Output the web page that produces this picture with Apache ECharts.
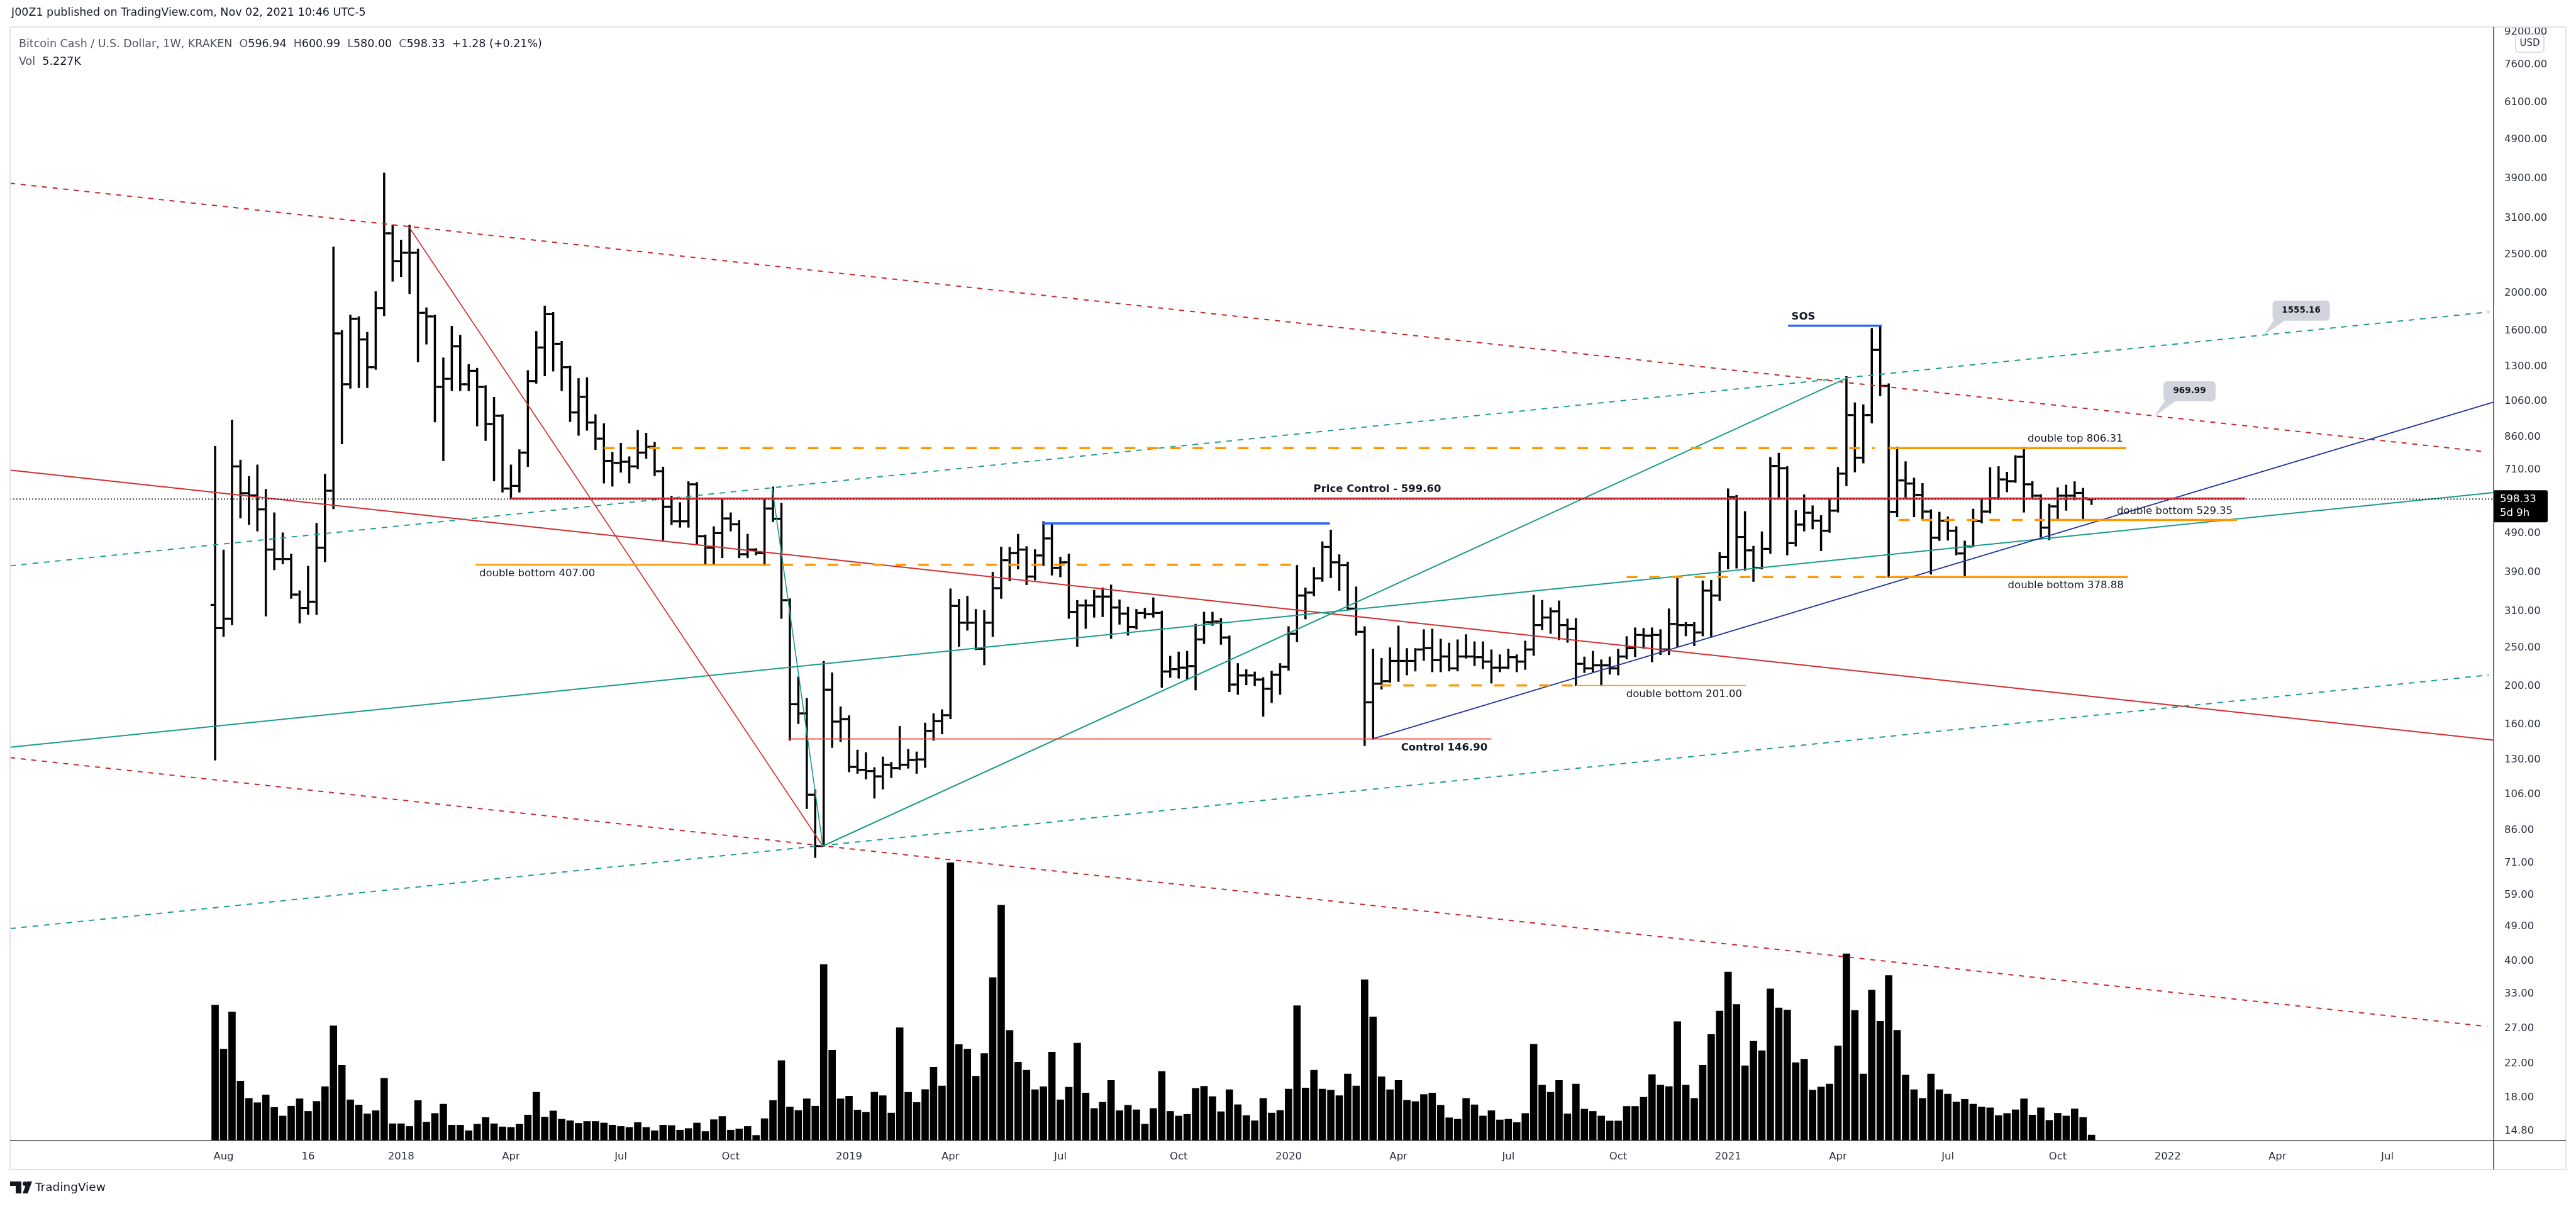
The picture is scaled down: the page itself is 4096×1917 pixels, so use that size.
<!DOCTYPE html>
<html>
<head>
<meta charset="utf-8">
<script src="https://cdn.jsdelivr.net/npm/echarts@6/dist/echarts.min.js"></script>
<style>html,body{margin:0;padding:0;background:#fff}#c{width:4096px;height:1917px}</style>
</head>
<body>
<div id="c"></div>
<script>
// Weekly bars, index 0 = week of 2017-07-31 (BCH/USD, Kraken, 1W)
const firstWeek = '2017-07-31';
const opens = [322,281,297,724,619,611,563,445,421,421,342,316,328,450,628,1577,1171,1718,1522,1294,1829,2833,2408,2529,2529,1779,1742,1153,1209,1462,1171,1267,1153,928,974,636,646,785,1193,1452,1765,1484,1294,993,1088,936,852,748,739,744,724,785,812,704,572,525,525,652,481,450,490,534,516,433,445,436,566,533,331,180,170.6,106,78.5,196,162.6,165,124.7,122.6,121.7,118,126.3,123.9,126.3,129.9,130.3,154,163,168.8,320,290,290,249,290,355,418,436,445,380,430,475,400,413,309,321,321,338,338,317,306,283,307,305,307,218,221,223,225,263,291,292,266,202,213,213,208,197,214,224,272,340,346,376,452,413,406,315,275,182,203,206,232,232,232,248,250,233,238,222,238,238,237,231,223,223,237,231,248,286,299,310,286,280,228,222,226,226,222,238,250,270,269,270,248,288,286,286,274,350,340,426,605,479,443,400,447,726,716,462,515,552,527,497,559,694,978,762,978,1432,1160,555,667,655,613,556,477,527,497,435,453,526,556,601,671,664,766,652,610,506,573,610,610,620,596.94];
const highs = [813,443,948,750,682,729,632,551,490,433,349,403,518,690,2612,1600,1752,1735,1585,2010,4024,2966,2717,2966,2577,1829,1752,1364,1642,1558,1312,1284,1160,1083,979,729,797,1267,1593,1848,1780,1503,1300,1209,1215,979,928,785,828,765,893,878,832,720,607,585,661,658,484,508,595,551,527,486,447,595,641,583,333,211,186,108.9,231,216,177,168,137.4,135.4,124,132,128,157.8,138,135.9,161,170,174,353,332,338,313,311,389,451,450,486,452,444,523,519,425,433,330,331,350,355,361,331,317,313,315,335,310,238,244,245,287,308,308,297,268,228,220,217,210,218,228,283,405,355,400,465,498,431,413,357,283,248,235,250,284,249,249,278,279,263,257,262,270,259,259,247,240,248,240,260,340,330,316,329,296,297,237,245,233,237,248,267,281,280,281,278,314,376,290,290,370,371,437,634,610,555,453,493,762,781,722,558,612,574,542,601,719,1223,1049,1037,1621,1652,1172,810,743,675,654,561,553,538,508,467,563,596,718,722,699,770,809,662,613,580,638,648,661,636,600.99];
const lows = [130,268,287,536,516,497,302,396,410,335,290,305,305,415,566,828,1146,1150,1150,1280,1752,2144,2204,1994,1337,1484,941,750,1130,1130,1130,919,844,667,624,599,624,725,1180,1232,1267,1130,943,870,896,801,658,646,701,658,715,760,687,471,516,508,508,460,408,408,425,497,425,425,432,406,525,298,146,161,97.9,73.5,78.5,140,145,121.4,120.3,116.4,104,109.7,117.3,123,124,120.3,124.5,146,151.6,165.7,253,278,248,227,268,335,371,398,363,373,406,384,380,298,253,281,300,301,265,288,270,280,298,300,199,211,210,208,196,257,286,256,194,191,202,201,168,182,191,220,260,297,340,370,378,351,313,270,141.5,146.9,197,205,206,214,219,233,218,218,219,219,236,226,222,204,218,222,218,221,240,279,273,263,259,201,217,218,201,215,214,235,238,250,231,241,241,252,269,254,269,267,331,398,400,395,370,398,436,601,432,455,497,503,443,493,555,648,702,740,935,1097,379,540,602,540,531,386,470,471,432,382,453,521,552,598,625,660,555,601,479,472,529,561,596,531,580];
const closes = [281,297,724,619,611,563,445,421,421,342,316,328,450,628,1577,1171,1718,1522,1294,1829,2833,2408,2529,2529,1779,1742,1153,1209,1462,1171,1267,1153,928,974,636,646,785,1193,1452,1765,1484,1294,993,1088,936,852,748,739,744,724,785,812,704,572,525,525,652,481,450,490,534,516,433,445,436,566,533,331,180,170.6,106,78.5,196,162.6,165,124.7,122.6,121.7,118,126.3,123.9,126.3,129.9,130.3,154,163,168.8,320,290,290,249,290,355,418,436,445,380,430,475,400,413,309,321,321,338,338,317,306,283,307,305,307,218,221,223,225,263,291,292,266,202,213,213,208,197,214,224,272,340,346,376,452,413,406,315,275,182,203,206,232,232,232,248,250,233,238,222,238,238,237,231,223,223,237,231,248,286,299,310,286,280,228,222,226,226,222,238,250,270,269,270,248,288,286,286,274,350,340,426,605,479,443,400,447,726,716,462,515,552,527,497,559,694,978,762,978,1432,1160,555,667,655,613,556,477,527,497,435,453,526,556,601,671,664,766,652,610,506,573,610,610,620,601,598.33];
// Volume in thousands
const volumes = [122.5,82.7,116.3,53.9,38.3,34.4,41.4,30.1,22.4,31.3,37.9,26.6,35.6,48.8,103.7,68.1,37.0,32.3,24.3,27.2,56.4,15.4,15.4,13.0,36.4,16.9,24.7,33.1,14.2,14.2,9.1,15.0,21.0,15.4,12.6,12.1,15.0,23.3,43.8,21.4,27.0,19.5,18.1,15.8,17.5,17.5,16.1,14.2,13.0,12.1,16.5,12.1,9.1,14.2,13.8,9.7,11.1,16.1,8.4,19.1,22.0,9.7,10.7,13.0,4.9,20.0,36.4,72.4,30.5,27.4,37.9,31.3,159.1,81.7,37.9,40.3,27.8,25.7,43.8,40.8,25.1,102.1,43.8,34.6,46.3,66.5,49.6,251,86.9,82.7,58.4,78.8,147.4,212.6,99.6,71.0,63.8,46.1,48.8,80.1,37.0,48.4,88.1,43.2,29.2,34.8,54.5,27.2,32.1,28.0,15.0,29.2,62.6,26.6,22.4,23.9,47.3,49.2,39.9,26.3,46.1,32.6,22.8,18.1,38.3,25.1,27.4,46.7,122.0,47.7,63.8,46.7,45.7,40.8,60.3,49.6,145.3,111.8,57.8,46.1,54.5,36.6,35.4,41.8,43.2,32.1,20.8,19.5,38.3,32.5,22.4,27.2,18.9,19.5,16.5,24.7,87.1,50.2,43.8,54.5,24.3,51.2,28.6,26.6,22.4,17.9,17.9,31.1,31.1,39.3,59.7,50.2,49.0,107.6,50.2,38.3,68.1,95.9,117.1,152.3,123.1,67.7,89.9,81.3,137.1,120.0,118.1,70.6,73.7,45.7,48.6,51.2,85.6,168.8,117.7,60.3,136.0,107.9,149.2,99.8,59.3,46.1,38.3,60.3,46.1,42.2,35.0,37.5,33.1,30.5,29.8,22.8,24.7,28.0,37.9,23.3,29.8,18.5,24.9,22.4,28.8,21.0,5.227];

// Time axis ticks (week index) and labels
const tickWeeks = [1,11,22,35,48,61,75,87,100,114,127,140,153,166,179,192,205,218,231,244,257];
const tickLabels = ['Aug','16','2018','Apr','Jul','Oct','2019','Apr','Jul','Oct','2020','Apr','Jul','Oct','2021','Apr','Jul','Oct','2022','Apr','Jul'];
// Price axis ticks
const priceTicks = [14.8,18,22,27,33,40,49,59,71,86,106,130,160,200,250,310,390,490,710,860,1060,1300,1600,2000,2500,3100,3900,4900,6100,7600,9200];

// Drawings: [weekIndex, price] anchor points
const redChannelUpper = [[-24.26,3798],[268.75,788]];
const redChannelMid = [[-24.26,708.8],[269.57,145.9]];
const redChannelLower = [[-24.26,131.7],[268.8,27.3]];
const tealChannelUpper = [[-24.26,404.7],[268.98,1788]];
const tealChannelMid = [[-24.26,139.9],[269.57,621.3]];
const tealChannelLower = [[-24.26,48.4],[268.98,213.6]];
const redDropLine = [[22.9,2949],[71.9,78.5]];
const tealDropLine = [[65.9,640],[71.9,78.5]];
const tealRiseLine = [[71.9,78.5],[193.1,1216]];
const navyRiseLine = [[136.9,146.9],[269.57,1055]];
const blueTop2019 = [[97.9,518.6],[131.9,518.6]];
const sosLine = [[186.1,1649],[197.2,1649]];
const priceControl = [[34.8,599.6],[240.2,599.6]];
const control146 = [[67.8,146.9],[151,146.9]];
const doubleTopDashed = [[46,806.31],[196.4,806.31]];
const doubleTopSolid = [[198,806.31],[226.1,806.31]];
const db407Solid = [[30.8,407],[65.7,407]];
const db407Dashed = [[67.1,407],[127.9,407]];
const db201Dashed = [[137.9,201],[161,201]];
const db201Solid = [[161,201],[181.1,201]];
const db378Dashed = [[167,378.88],[198,378.88]];
const db378Solid = [[198,378.88],[226.3,378.88]];
const db529Dashed = [[199.2,529.35],[216.5,529.35]];
const db529Solid = [[217.1,529.35],[239.2,529.35]];
const lastPriceLine = [[-24.26,598.33],[269.57,598.33]];

const noteTexts = ['Price Control - 599.60','double bottom 407.00','double bottom 201.00','Control 146.90','SOS','double top 806.31','double bottom 378.88','double bottom 529.35'];
const noteAnchors = [[137.5,632.8],[31.25,386.5],[180.65,190.5],[140.3,139.3],[186.5,1739],[225.7,849.4],[225.8,360.3],[238.7,556.4]];
const calloutAnchors = [[242.3,1555.16],[229.4,969.99]];

// ---------- styles ----------
const FONT = '"DejaVu Sans", Verdana, sans-serif';
const noteStyles = [
  {align:'center',bold:true},{align:'left',bold:false},{align:'right',bold:false},{align:'left',bold:true},
  {align:'left',bold:true},{align:'right',bold:false},{align:'right',bold:false},{align:'right',bold:false}
];
const RED_D = '#c62828', RED = '#d32f2f', TEAL = '#1b9c8a', ORANGE = '#ff9800', BLUE = '#2962ff', NAVY = '#2236a0';
const lineSpecs = [
  [redChannelUpper, RED_D, 2, [8,9]],
  [redChannelMid, RED, 2, 'solid'],
  [redChannelLower, RED_D, 2, [8,9]],
  [tealChannelUpper, TEAL, 2, [9,9]],
  [tealChannelMid, TEAL, 2, 'solid'],
  [tealChannelLower, TEAL, 2, [9,9]],
  [redDropLine, RED, 1.6, 'solid'],
  [tealDropLine, TEAL, 1.6, 'solid'],
  [tealRiseLine, TEAL, 2, 'solid'],
  [navyRiseLine, NAVY, 2, 'solid'],
  [blueTop2019, BLUE, 3.5, 'solid'],
  [sosLine, BLUE, 3.5, 'solid'],
  [priceControl, '#f23645', 3.5, 'solid'],
  [control146, '#f44336', 1.6, 'solid'],
  [doubleTopDashed, ORANGE, 3.5, [17,19]],
  [doubleTopSolid, ORANGE, 3.5, 'solid'],
  [db407Solid, ORANGE, 2.5, 'solid'],
  [db407Dashed, ORANGE, 3.5, [17,19]],
  [db201Dashed, ORANGE, 3.5, [17,19]],
  [db201Solid, ORANGE, 1.6, 'solid'],
  [db378Dashed, ORANGE, 3.5, [17,19]],
  [db378Solid, ORANGE, 3.5, 'solid'],
  [db529Dashed, ORANGE, 3.5, [17,19]],
  [db529Solid, ORANGE, 3.5, 'solid'],
  [lastPriceLine, '#000000', 1.5, [2,3]]
];

const barData = opens.map((o, i) => [i, o, highs[i], lows[i], closes[i]]);
const volData = volumes.map((v, i) => [i, v]);
const tickLabelOf = {};
tickWeeks.forEach((w, k) => { tickLabelOf[w] = tickLabels[k]; });

function renderBar(params, api) {
  const i = api.value(0);
  const pO = api.coord([i, api.value(1)]);
  const pH = api.coord([i, api.value(2)]);
  const pL = api.coord([i, api.value(3)]);
  const pC = api.coord([i, api.value(4)]);
  const x = pH[0];
  return {type:'group', children:[
    {type:'rect', shape:{x:x-1.75, y:pH[1]-1, width:3.5, height:pL[1]-pH[1]+2}, style:{fill:'#000'}},
    {type:'rect', shape:{x:x-7.25, y:pO[1]-1.6, width:5.5, height:3.2}, style:{fill:'#000'}},
    {type:'rect', shape:{x:x+1.75, y:pC[1]-1.6, width:5.5, height:3.2}, style:{fill:'#000'}}
  ]};
}
function renderVol(params, api) {
  const i = api.value(0);
  const top = api.coord([i, api.value(1)]);
  const base = api.coord([i, 0]);
  const a = api.coord([i-0.5, 0]), b = api.coord([i+0.5, 0]);
  const w = (b[0]-a[0]) - 1.8;
  return {type:'rect', shape:{x:top[0]-w/2, y:top[1], width:w, height:base[1]-top[1]}, style:{fill:'#000'}};
}
function renderNote(params, api) {
  const k = api.value(2);
  const pt = api.coord([api.value(0), api.value(1)]);
  const s = noteStyles[k];
  return {type:'text', x:pt[0], y:pt[1], style:{text:noteTexts[k], fill:'#131722',
    font:(s.bold?'bold ':'')+'16.5px '+FONT, align:s.align, verticalAlign:'middle'}};
}
function renderCallout(params, api) {
  const v = api.value(1);
  const tip = api.coord([api.value(0), v]);
  const txt = v.toFixed(2);
  const w = txt.length*8.3 + 33, h = 32;
  const x0 = tip[0] + 15, y0 = tip[1] - 56;
  return {type:'group', children:[
    {type:'polygon', shape:{points:[[tip[0],tip[1]],[x0+2,y0+h-1],[x0+20,y0+h-1]]}, style:{fill:'#d1d4dc'}},
    {type:'rect', shape:{x:x0, y:y0, width:w, height:h, r:6}, style:{fill:'#d1d4dc'}},
    {type:'text', x:x0+w/2, y:y0+h/2, style:{text:txt, fill:'#131722', font:'bold 13.5px '+FONT, align:'center', verticalAlign:'middle'}}
  ]};
}
function renderLastPrice(params, api) {
  const pt = api.coord([api.value(0), api.value(1)]);
  return {type:'group', children:[
    {type:'rect', shape:{x:pt[0], y:pt[1]-14, width:86, height:51, r:[0,3,3,0]}, style:{fill:'#000'}},
    {type:'text', x:pt[0]+10, y:pt[1]+1, style:{text:api.value(1).toFixed(2), fill:'#fff', font:'16.5px '+FONT, verticalAlign:'middle'}},
    {type:'text', x:pt[0]+10, y:pt[1]+23, style:{text:'5d 9h', fill:'#fff', font:'16.5px '+FONT, verticalAlign:'middle'}}
  ]};
}

const series = [];
series.push({type:'custom', name:'Vol', xAxisIndex:0, yAxisIndex:1, data:volData, renderItem:renderVol, z:1, silent:true, animation:false});
series.push({type:'custom', name:'BCHUSD', xAxisIndex:0, yAxisIndex:0, data:barData, renderItem:renderBar, z:3, silent:true, animation:false,
  encode:{x:0, y:[1,2,3,4]}});
lineSpecs.forEach((s, k) => {
  series.push({type:'line', xAxisIndex:0, yAxisIndex:0, data:s[0], symbol:'none', silent:true, animation:false, clip:true,
    z: (k === lineSpecs.length-1) ? 7 : 5,
    lineStyle:{color:s[1], width:s[2], type:s[3], cap:'butt'}});
});
series.push({type:'custom', name:'notes', xAxisIndex:0, yAxisIndex:0, data:noteAnchors.map((a,k)=>[a[0],a[1],k]), renderItem:renderNote, z:9, silent:true, animation:false});
series.push({type:'custom', name:'callouts', xAxisIndex:0, yAxisIndex:0, data:calloutAnchors, renderItem:renderCallout, z:9, silent:true, animation:false});
series.push({type:'custom', name:'last', xAxisIndex:0, yAxisIndex:0, data:[[269.57, closes[closes.length-1]]], renderItem:renderLastPrice, z:10, silent:true, animation:false, clip:false});

const axisText = {fontSize:16.5, fontFamily:FONT, color:'#2a2e39'};
const chart = echarts.init(document.getElementById('c'), null, {renderer:'canvas'});
chart.setOption({
  backgroundColor:'#ffffff',
  animation:false,
  grid:{left:16, right:131, top:43, bottom:104, containLabel:false},
  xAxis:{type:'value', min:-24.26, max:269.57,
    axisLine:{show:false}, axisTick:{show:false}, splitLine:{show:false},
    axisLabel:Object.assign({customValues:tickWeeks, margin:17, formatter:(v)=>tickLabelOf[Math.round(v)] || ''}, axisText)},
  yAxis:[
    {type:'log', logBase:10, position:'right', min:14.0, max:9475,
      axisLine:{show:false}, axisTick:{show:false}, splitLine:{show:false},
      axisLabel:Object.assign({customValues:priceTicks, margin:17, formatter:(v)=>Number(v).toFixed(2)}, axisText)},
    {type:'value', min:0, max:1005, show:false, splitLine:{show:false}}
  ],
  series:series,
  graphic:[
    {type:'rect', z:100, silent:true, shape:{x:16, y:43, width:4064, height:1816}, style:{fill:'none', stroke:'#e0e3eb', lineWidth:2}},
    {type:'line', z:100, silent:true, shape:{x1:3965, y1:43, x2:3965, y2:1859}, style:{stroke:'#4a4d57', lineWidth:1.6}},
    {type:'line', z:100, silent:true, shape:{x1:16, y1:1813, x2:4080, y2:1813}, style:{stroke:'#4a4d57', lineWidth:1.6}},
    {type:'text', z:100, x:18, y:20, silent:true, style:{text:'J00Z1 published on TradingView.com, Nov 02, 2021 10:46 UTC-5', font:'17.5px '+FONT, fill:'#131722', verticalAlign:'middle'}},
    {type:'text', z:100, x:30, y:70, silent:true, style:{
      text:'{g|Bitcoin Cash / U.S. Dollar, 1W, KRAKEN}  {g|O}{v|596.94}  {g|H}{v|600.99}  {g|L}{v|580.00}  {g|C}{v|598.33}  {v|+1.28 (+0.21%)}',
      font:'17.5px '+FONT, verticalAlign:'middle',
      rich:{g:{fill:'#50535e', font:'17.5px '+FONT}, v:{fill:'#131722', font:'17.5px '+FONT}}}},
    {type:'text', z:100, x:30, y:98, silent:true, style:{
      text:'{g|Vol}  {v|5.227K}', font:'17.5px '+FONT, verticalAlign:'middle',
      rich:{g:{fill:'#50535e', font:'17.5px '+FONT}, v:{fill:'#131722', font:'17.5px '+FONT}}}},
    {type:'rect', z:101, silent:true, shape:{x:4000, y:55, width:45, height:28, r:5}, style:{fill:'#ffffff', stroke:'#d1d4dc', lineWidth:1.5}},
    {type:'text', z:102, silent:true, x:4022.5, y:69, style:{text:'USD', font:'15px '+FONT, fill:'#2a2e39', align:'center', verticalAlign:'middle'}},
    {type:'rect', z:100, silent:true, shape:{x:16, y:1878, width:18, height:7}, style:{fill:'#131722'}},
    {type:'rect', z:100, silent:true, shape:{x:25, y:1878, width:9, height:19}, style:{fill:'#131722'}},
    {type:'circle', z:100, silent:true, shape:{cx:39.5, cy:1881.5, r:3.5}, style:{fill:'#131722'}},
    {type:'polygon', z:100, silent:true, shape:{points:[[43,1878],[51,1878],[44,1897],[36,1897]]}, style:{fill:'#131722'}},
    {type:'text', z:100, silent:true, x:56, y:1888, style:{text:'TradingView', font:'18.5px '+FONT, fill:'#131722', verticalAlign:'middle'}}
  ]
});
</script>
</body>
</html>
